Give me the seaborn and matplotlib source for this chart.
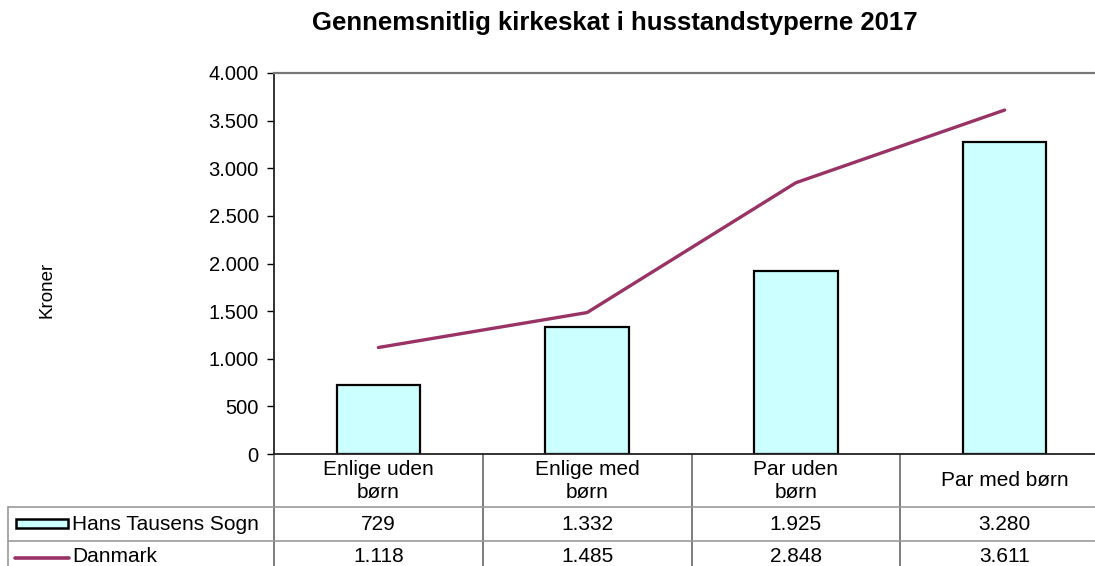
import numpy as np
import matplotlib
matplotlib.use("Agg")
import matplotlib.pyplot as plt
import matplotlib.transforms as mtransforms
from matplotlib.patches import Rectangle
from matplotlib.lines import Line2D
import seaborn as sns
import pandas as pd

# data
categories = ["Enlige uden\nbørn", "Enlige med\nbørn", "Par uden\nbørn", "Par med børn"]
sogn = [729, 1332, 1925, 3280]
danmark = [1118, 1485, 2848, 3611]
series_names = ["Hans Tausens Sogn", "Danmark"]
title = "Gennemsnitlig kirkeskat i husstandstyperne 2017"

bar_color = "#CCFFFF"
line_color = "#993366"

sns.set_style("white")
plt.rcParams["font.family"] = ["Liberation Sans", "DejaVu Sans"]
plt.rcParams["text.color"] = "black"
plt.rcParams["ytick.color"] = "black"
plt.rcParams["ytick.labelcolor"] = "black"

FS = 14.5      # tick labels
TFS = 15       # table text

W, H = 1095, 566
fig = plt.figure(figsize=(W / 100, H / 100), dpi=100)
# plot area in pixels: left 274, right ~1109 (runs past the edge), top 73, bottom 454
ax = fig.add_axes([274 / W, (H - 454) / H, (1109 - 274) / W, (454 - 73) / H])

df = pd.DataFrame({"cat": range(len(categories)), "sogn": sogn, "danmark": danmark})

sns.barplot(x=df["cat"], y=df["sogn"], ax=ax, color=bar_color, edgecolor="black",
            linewidth=1.6, width=0.4, saturation=1, native_scale=True)
sns.lineplot(x=df["cat"], y=df["danmark"], ax=ax, color=line_color, linewidth=2.4)

ax.set_xlim(-0.5, len(categories) - 0.5)
ax.set_ylim(0, 4000)
ax.set_yticks(np.arange(0, 4001, 500))
ax.set_yticklabels([f"{v:,}".replace(",", ".") for v in range(0, 4001, 500)], fontsize=FS)
ax.set_xticks([])
ax.set_xlabel("")
ax.set_ylabel("")
ax.tick_params(axis="y", direction="out", length=5, width=1, color="black", pad=6, left=True)

for side in ["left", "bottom"]:
    ax.spines[side].set_color("#222222")
    ax.spines[side].set_linewidth(1.3)
ax.spines["top"].set_color("#777777")
ax.spines["top"].set_linewidth(1.6)
ax.spines["right"].set_visible(False)

fig.text(615 / W, 1 - 23 / H, title, ha="center", va="center", fontsize=18.5, fontweight="bold")
fig.text(47 / W, 1 - 290 / H, "Kroner", rotation=90, ha="center", va="center", fontsize=13.5)

# data table below the plot
tr = mtransforms.blended_transform_factory(ax.transData, fig.transFigure)
fy = lambda py: 1 - py / H
fx = lambda px: px / W

row_lines = [507, 541]
# horizontal table lines
for py in row_lines:
    fig.add_artist(Line2D([fx(8), fx(1109)], [fy(py), fy(py)], color="#999999", lw=1.2))
fig.add_artist(Line2D([fx(8), fx(8)], [fy(507), fy(580)], color="#999999", lw=1.2))
# vertical column lines at category boundaries
for i in range(len(categories) + 1):
    xb = i - 0.5
    ax.add_artist(Line2D([xb, xb], [fy(454), fy(580)], transform=tr, color="#666666",
                         lw=1.2, clip_on=False))

for i, cat in enumerate(categories):
    fig.text(0, fy(481), cat, transform=tr, ha="center", va="center", fontsize=TFS,
             linespacing=1.3).set_x(i)
    fig.text(0, fy(524), f"{sogn[i]:,}".replace(",", "."), transform=tr, ha="center",
             va="center", fontsize=TFS).set_x(i)
    fig.text(0, fy(557), f"{danmark[i]:,}".replace(",", "."), transform=tr, ha="center",
             va="center", fontsize=TFS).set_x(i)

# legend keys inside the table
fig.add_artist(Rectangle((fx(16), fy(528)), fx(68) - fx(16), fy(519) - fy(528),
                         facecolor=bar_color, edgecolor="black", lw=1.8))
fig.add_artist(Line2D([fx(15), fx(69)], [fy(558), fy(558)], color=line_color, lw=2.6))
fig.text(fx(72), fy(524), series_names[0], ha="left", va="center", fontsize=TFS)
fig.text(fx(72), fy(557), series_names[1], ha="left", va="center", fontsize=TFS)

fig.savefig("out.png", dpi=100)
plt.close(fig)
